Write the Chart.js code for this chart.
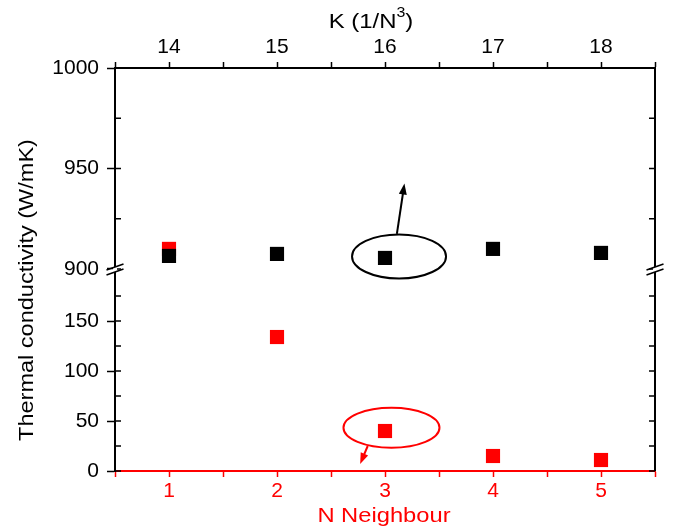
<!DOCTYPE html>
<html>
<head>
<meta charset="utf-8">
<script src="https://cdn.jsdelivr.net/npm/chart.js@4.4.1/dist/chart.umd.min.js"></script>
<style>
  html, body { margin: 0; padding: 0; background: #fff; }
  #wrap { position: relative; width: 683px; height: 528px; }
</style>
</head>
<body>
<div id="wrap"><canvas id="chart"></canvas></div>
<script>
// bottom axis: N neighbour (red), top axis: K (black)
const neighbours = [1, 2, 3, 4, 5];
const kValues = [14, 15, 16, 17, 18];
const kConductivity = [906.5, 907.5, 905.5, 910, 908];
const neighbourConductivity = [910, 134, 40, 15, 11];

// the y axis is broken into two segments
// (keep (max - min) / 25 away from a whole number or chart.js stretches the step)
const upperRange = [897, 1000];
const lowerRange = [0, 196];

const RED = "#ff0000";
const FONT = "'Liberation Sans', Arial, sans-serif";

Chart.defaults.font.family = FONT;
Chart.defaults.font.size = 21;
Chart.defaults.color = "#000";

const kPoints = kValues.map((k, i) => ({ x: k, y: kConductivity[i] }));
const nPoints = neighbours.map((n, i) => ({ x: n, y: neighbourConductivity[i] }));
const nUpper = nPoints.filter((p) => p.y >= upperRange[0]);
const nLower = nPoints.filter((p) => p.y < upperRange[0]);

function fixSize(prop, value) {
    return (scale) => { scale[prop] = value; };
}

// ticks every 25, only multiples of 50 get a label and an outer tick
function leftAxis(range, weight, stackWeight) {
    return {
        type: "linear",
        position: "left",
        stack: "y",
        stackWeight: stackWeight,
        weight: weight,
        min: range[0],
        max: range[1],
        afterFit: fixSize("width", 115),
        border: { display: true, color: "#000", width: 2 },
        grid: {
            drawOnChartArea: false,
            tickLength: 8,
            tickWidth: 1.5,
            color: (ctx) => (ctx.tick && ctx.tick.value % 50 === 0 ? "#000" : "rgba(0,0,0,0)"),
        },
        ticks: {
            stepSize: 25,
            includeBounds: false,
            autoSkip: false,
            padding: 8,
            callback: (v) => (v % 50 === 0 ? String(v) : ""),
        },
    };
}

function xAxis(position, min, max, color, height, pad) {
    return {
        type: "linear",
        position: position,
        min: min,
        max: max,
        afterFit: fixSize("height", height),
        border: { display: true, color: color, width: 2 },
        grid: { drawOnChartArea: false, tickLength: 6, tickWidth: 1.5, color: color },
        ticks: {
            stepSize: 0.5,
            includeBounds: false,
            autoSkip: false,
            maxRotation: 0,
            color: color,
            padding: pad,
            callback: (v) => (Number.isInteger(v) ? String(v) : ""),
        },
    };
}

function stretchedText(ctx, text, x, y, sx) {
    ctx.save();
    ctx.translate(x, y);
    ctx.scale(sx, 1);
    ctx.fillText(text, 0, 0);
    ctx.restore();
}

// inner ticks, right frame, axis breaks, titles and the two marked ellipses
const decorations = {
    id: "decorations",
    afterDraw(chart) {
        const ctx = chart.ctx;
        const area = chart.chartArea;
        const { xTop, xBottom, yTop, yBot } = chart.scales;

        ctx.save();
        ctx.strokeStyle = "#000";
        ctx.lineWidth = 2;
        ctx.beginPath();
        ctx.moveTo(area.right, area.top);
        ctx.lineTo(area.right, area.bottom);
        ctx.stroke();

        ctx.lineWidth = 1.5;
        [yTop, yBot].forEach((scale) => {
            scale.ticks.forEach((t) => {
                const y = scale.getPixelForValue(t.value);
                ctx.beginPath();
                ctx.moveTo(area.left, y);
                ctx.lineTo(area.left + 6, y);
                ctx.moveTo(area.right, y);
                ctx.lineTo(area.right - 6, y);
                ctx.stroke();
            });
        });

        // break marks
        const yc = yTop.getPixelForValue(900) + 1;
        [area.left, area.right].forEach((x) => {
            ctx.fillStyle = "#fff";
            ctx.fillRect(x - 2, yc - 3, 4, 5);
            ctx.strokeStyle = "#000";
            ctx.lineWidth = 1.5;
            ctx.beginPath();
            ctx.moveTo(x - 8.5, yc);
            ctx.lineTo(x + 8.5, yc - 6);
            ctx.moveTo(x - 8.5, yc + 5);
            ctx.lineTo(x + 8.5, yc - 1);
            ctx.stroke();
        });

        // black ellipse + arrow (K series)
        ctx.strokeStyle = "#000";
        ctx.lineWidth = 2;
        ctx.beginPath();
        ctx.ellipse(xTop.getPixelForValue(16.13), yTop.getPixelForValue(906.25), 47, 22, 0, 0, Math.PI * 2);
        ctx.stroke();
        drawArrow(ctx,
            xTop.getPixelForValue(16.11), yTop.getPixelForValue(917.5),
            xTop.getPixelForValue(16.18), yTop.getPixelForValue(942.5), "#000");

        // red ellipse + arrow (N series)
        ctx.strokeStyle = RED;
        ctx.beginPath();
        ctx.ellipse(xBottom.getPixelForValue(3.06), yBot.getPixelForValue(43.3), 48, 20, 0, 0, Math.PI * 2);
        ctx.stroke();
        drawArrow(ctx,
            xBottom.getPixelForValue(2.84), yBot.getPixelForValue(25),
            xBottom.getPixelForValue(2.77), yBot.getPixelForValue(7), RED);

        // axis titles
        ctx.fillStyle = "#000";
        ctx.font = "21px " + FONT;
        ctx.textAlign = "center";
        ctx.textBaseline = "middle";
        ctx.save();
        ctx.translate(27, 290);
        ctx.rotate(-Math.PI / 2);
        ctx.scale(1.12, 1);
        ctx.fillText("Thermal conductivity (W/mK)", 0, 0);
        ctx.restore();

        ctx.textBaseline = "alphabetic";
        ctx.textAlign = "left";
        const sx = 1.14;
        const part1 = "K (1/N";
        const w1 = ctx.measureText(part1).width * sx;
        ctx.font = "14px " + FONT;
        const w2 = ctx.measureText("3").width * sx;
        ctx.font = "21px " + FONT;
        const w3 = ctx.measureText(")").width * sx;
        const x0 = 371 - (w1 + w2 + w3) / 2;
        stretchedText(ctx, part1, x0, 28, sx);
        ctx.font = "14px " + FONT;
        stretchedText(ctx, "3", x0 + w1, 17, sx);
        ctx.font = "21px " + FONT;
        stretchedText(ctx, ")", x0 + w1 + w2, 28, sx);

        ctx.fillStyle = RED;
        ctx.textAlign = "center";
        stretchedText(ctx, "N Neighbour", 384, 522, 1.13);
        ctx.restore();
    },
};

function drawArrow(ctx, x1, y1, x2, y2, color) {
    const ang = Math.atan2(y2 - y1, x2 - x1);
    ctx.save();
    ctx.strokeStyle = color;
    ctx.fillStyle = color;
    ctx.lineWidth = 2;
    ctx.beginPath();
    ctx.moveTo(x1, y1);
    ctx.lineTo(x2 - 6 * Math.cos(ang), y2 - 6 * Math.sin(ang));
    ctx.stroke();
    ctx.beginPath();
    ctx.moveTo(x2, y2);
    ctx.lineTo(x2 - 11 * Math.cos(ang) + 4 * Math.sin(ang), y2 - 11 * Math.sin(ang) - 4 * Math.cos(ang));
    ctx.lineTo(x2 - 11 * Math.cos(ang) - 4 * Math.sin(ang), y2 - 11 * Math.sin(ang) + 4 * Math.cos(ang));
    ctx.closePath();
    ctx.fill();
    ctx.restore();
}

const square = (color) => ({
    showLine: false,
    pointStyle: "rect",
    pointRadius: 10,
    pointHoverRadius: 10,
    pointBorderWidth: 0,
    backgroundColor: color,
    borderColor: color,
});

new Chart(document.getElementById("chart"), {
    type: "scatter",
    data: {
        datasets: [
            { label: "K", data: kPoints, xAxisID: "xTop", yAxisID: "yTop", ...square("#000") },
            { label: "N (upper)", data: nUpper, xAxisID: "xBottom", yAxisID: "yTop", ...square(RED) },
            { label: "N (lower)", data: nLower, xAxisID: "xBottom", yAxisID: "yBot", ...square(RED) },
        ],
    },
    options: {
        responsive: true,
        maintainAspectRatio: false,
        animation: false,
        layout: { padding: { right: 28 } },
        plugins: { legend: { display: false }, tooltip: { enabled: false } },
        scales: {
            xBottom: xAxis("bottom", 0.5, 5.5, RED, 57, 2),
            xTop: xAxis("top", 13.5, 18.5, "#000", 68, 2),
            yTop: leftAxis(upperRange, 2, 206),
            yBot: leftAxis(lowerRange, 1, 195),
        },
    },
    plugins: [decorations],
});
</script>
</body>
</html>
